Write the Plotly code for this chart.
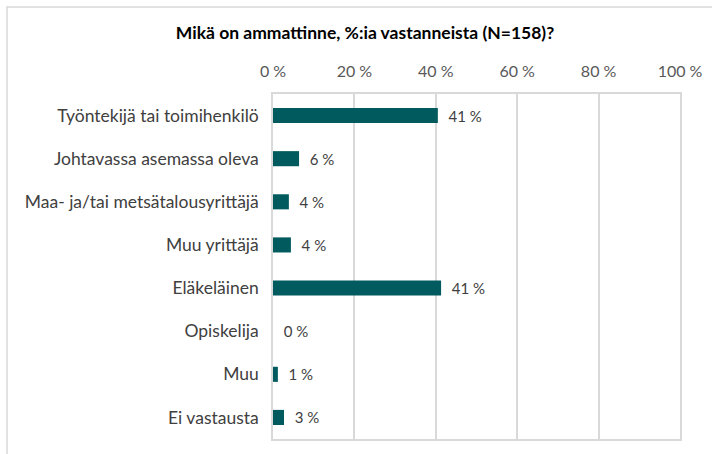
import plotly.graph_objects as go

categories = [
    "Työntekijä tai toimihenkilö",
    "Johtavassa asemassa oleva",
    "Maa- ja/tai metsätalousyrittäjä",
    "Muu yrittäjä",
    "Eläkeläinen",
    "Opiskelija",
    "Muu",
    "Ei vastausta",
]
values = [40.5, 6.4, 3.9, 4.4, 41.3, 0.0, 1.2, 2.7]
tick_vals = [0, 20, 40, 60, 80, 100]
tick_text = ["0 %", "20 %", "40 %", "60 %", "80 %", "100 %"]
title_text = "Mikä on ammattinne, %:ia vastanneista (N=158)?"

FONT = "Lato, Open Sans, sans-serif"
TEXT_COLOR = "#404040"
GRID = "#d9d9d9"

fig = go.Figure(
    go.Bar(
        x=values,
        y=categories,
        orientation="h",
        marker=dict(color="#005a5e", line=dict(width=0)),
        texttemplate="  %{x:.0f} %",
        textposition="outside",
        constraintext="none",
        textfont=dict(family=FONT, size=15, color=TEXT_COLOR),
        cliponaxis=False,
    )
)

fig.update_layout(
    width=712,
    height=454,
    margin=dict(l=273, r=32, t=94, b=15, autoexpand=False),
    paper_bgcolor="white",
    plot_bgcolor="white",
    showlegend=False,
    bargap=0.65,
    title=dict(
        text="<b>" + title_text + "</b>",
        x=365 / 712,
        xref="container",
        xanchor="center",
        y=1 - 33 / 454,
        yanchor="middle",
        font=dict(family=FONT, size=17.5, color="#000000"),
    ),
    xaxis=dict(
        range=[0, 100],
        side="top",
        tickvals=tick_vals,
        ticktext=tick_text,
        showgrid=True,
        gridcolor=GRID,
        gridwidth=1.5,
        zeroline=False,
        showline=True,
        linecolor=GRID,
        linewidth=1.5,
        mirror=True,
        ticks="outside",
        ticklen=9,
        tickcolor="rgba(0,0,0,0)",
        tickfont=dict(family=FONT, size=16, color="#595959"),
        automargin=False,
        fixedrange=True,
    ),
    yaxis=dict(
        autorange="reversed",
        showgrid=False,
        showline=True,
        linecolor=GRID,
        linewidth=1.5,
        mirror=True,
        ticks="outside",
        ticklen=9,
        tickcolor="rgba(0,0,0,0)",
        tickfont=dict(family=FONT, size=17.5, color=TEXT_COLOR),
        automargin=False,
        fixedrange=True,
    ),
    shapes=[
        dict(
            type="rect",
            xref="paper",
            yref="paper",
            x0=(7 - 273) / 407,
            x1=1.3,
            y0=-0.2,
            y1=(439 - 7) / 345,
            line=dict(color=GRID, width=1.5),
            fillcolor="rgba(0,0,0,0)",
            layer="below",
        )
    ],
)

fig.write_html(
    "out.html",
    config={"displayModeBar": False},
    post_script="document.body.style.margin='0';document.body.style.padding='0';",
)
